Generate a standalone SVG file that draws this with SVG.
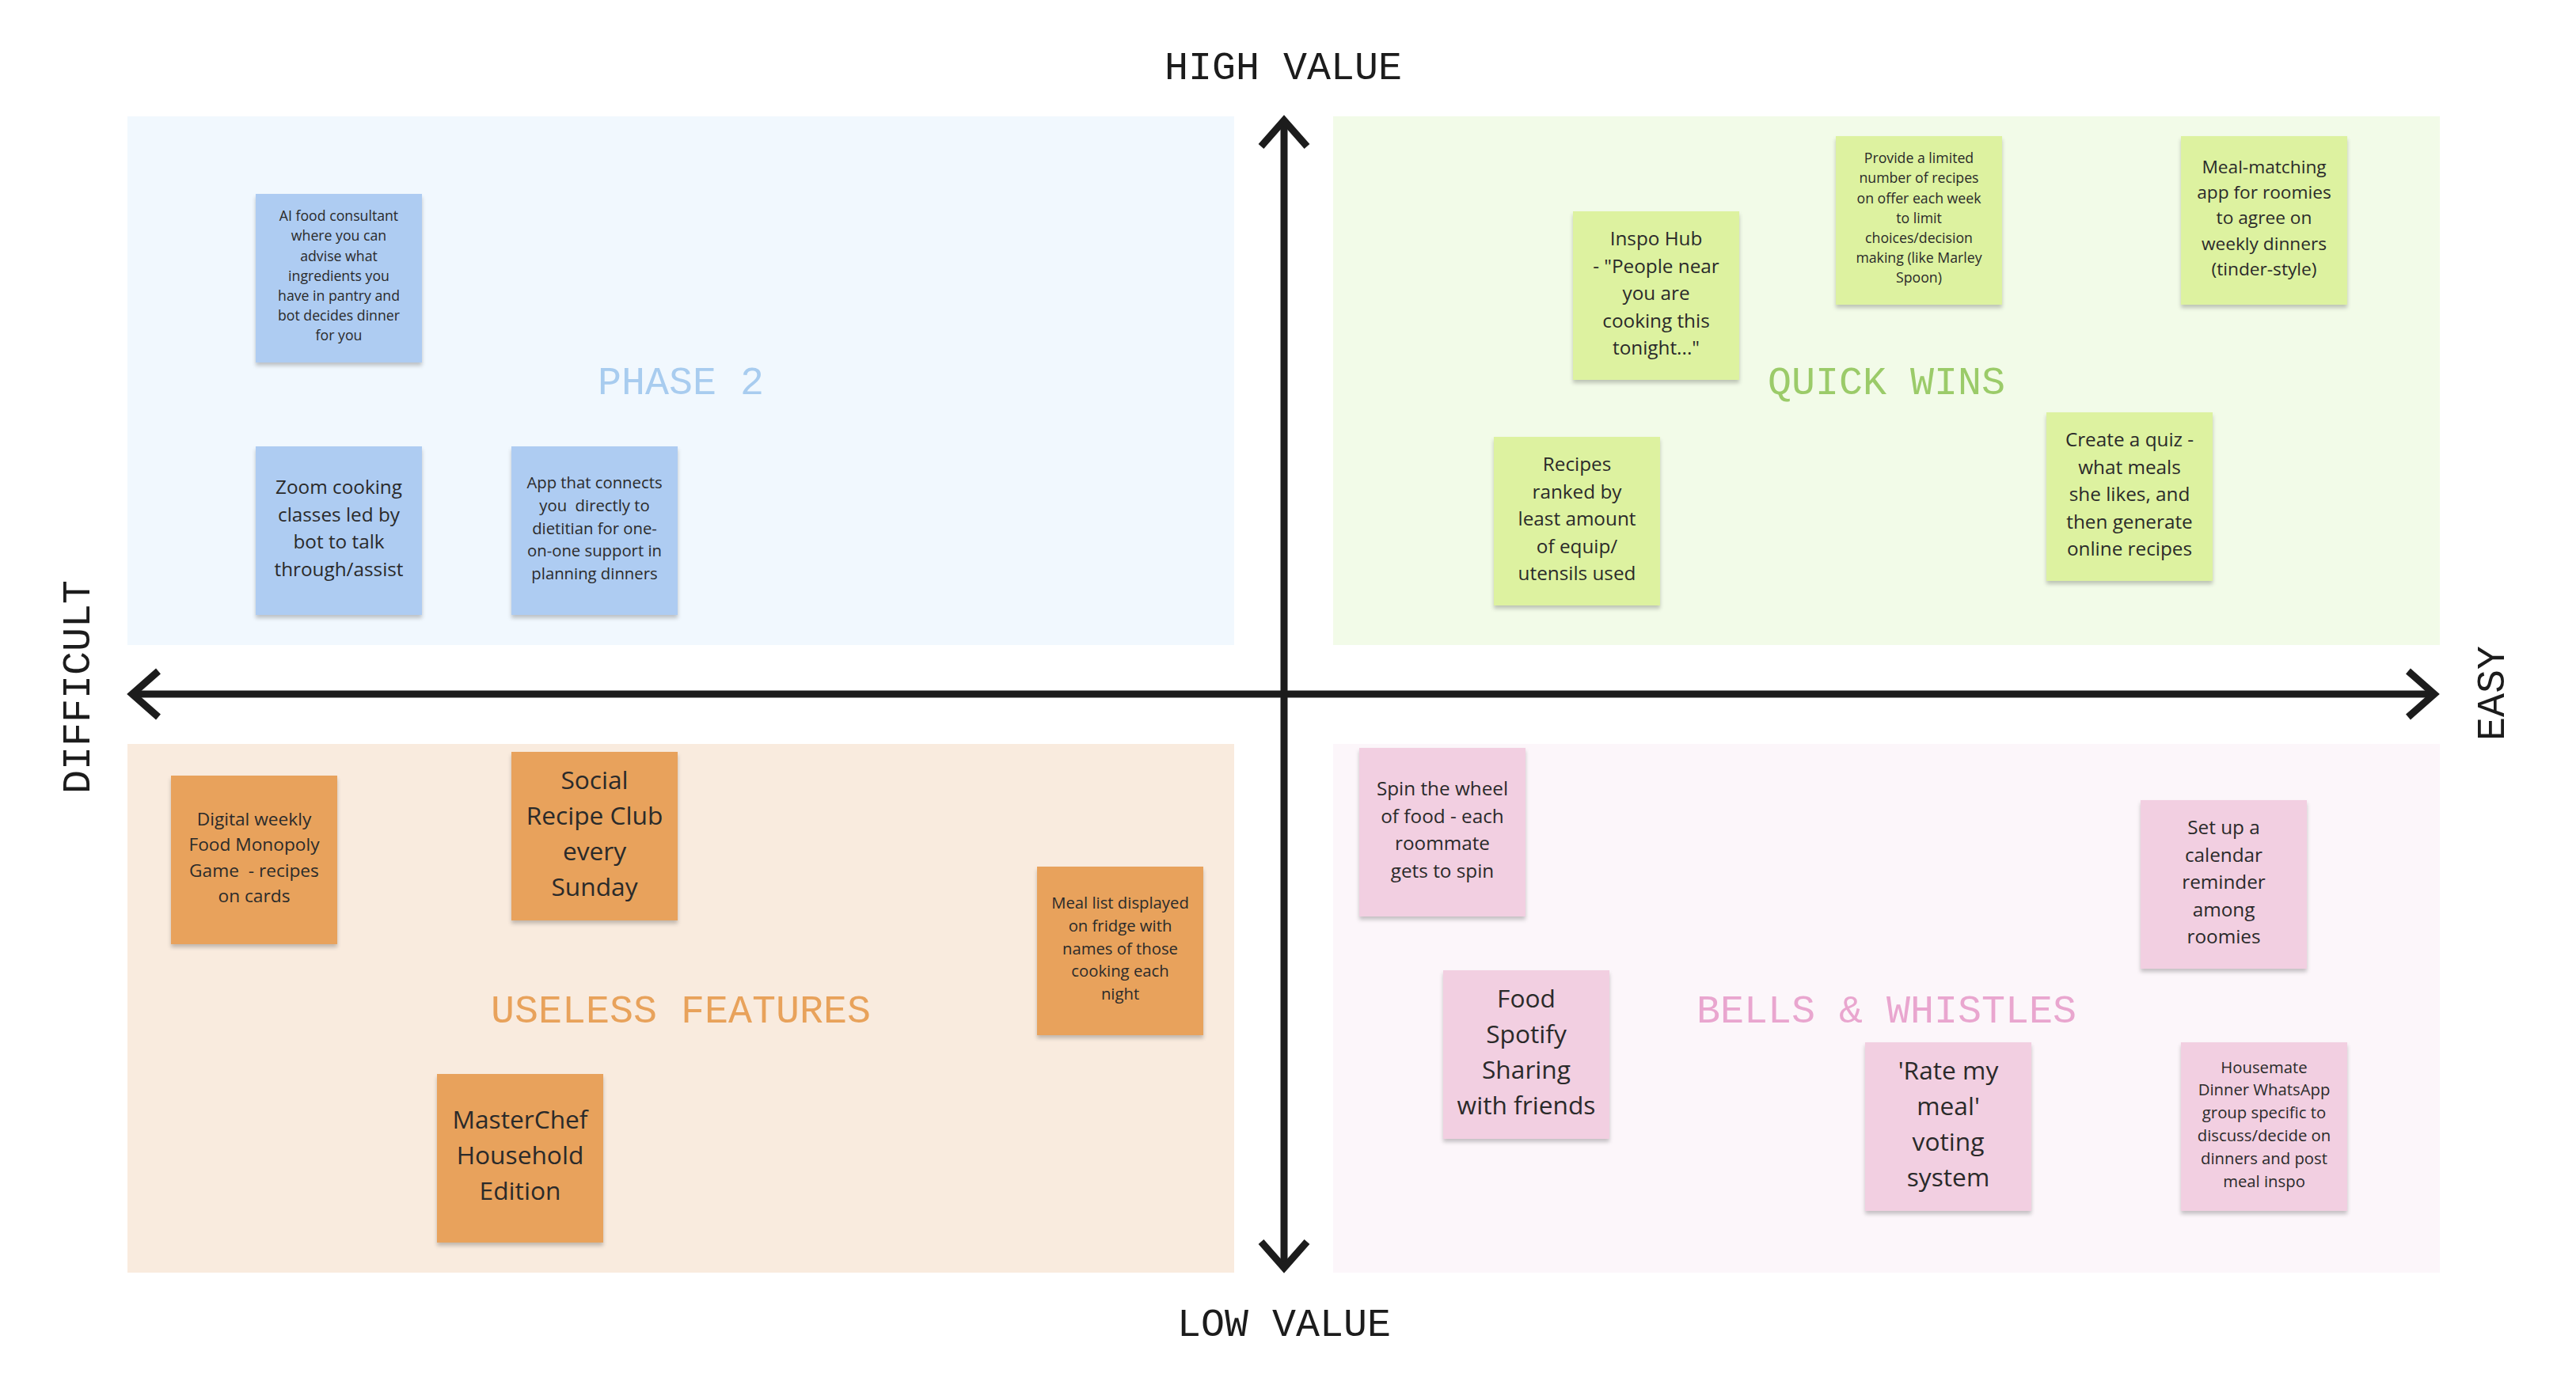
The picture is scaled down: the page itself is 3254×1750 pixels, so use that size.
<svg xmlns="http://www.w3.org/2000/svg" width="3254" height="1750" viewBox="0 0 3254 1750">
<defs>
<style>
.mono{font-family:"Liberation Mono","DejaVu Sans Mono",monospace;font-size:50px;text-anchor:middle}
.axislbl{fill:#1c1c1c}
.note text{font-family:"Open Sans","Noto Sans",sans-serif;fill:#2a2a2a;text-anchor:middle}
.blue rect{fill:#AECCF2}
.green rect{fill:#DDF2A0}
.orange rect{fill:#E8A25B}
.pink rect{fill:#F2CFE1}
.s1{font-size:17.7px}
.s2{font-size:20.3px}
.s3{font-size:22.7px}
.s4{font-size:24.3px}
.s5{font-size:31.7px}
.axis{stroke:#1c1c1c;stroke-width:9;fill:none}
</style>
<filter id="sh" x="-10%" y="-10%" width="120%" height="125%">
<feDropShadow dx="0" dy="4" stdDeviation="2.5" flood-color="#000" flood-opacity="0.22"/>
</filter>
</defs>
<rect width="3254" height="1750" fill="#ffffff"/>
<g id="quadrants">
<rect x="161" y="147" width="1398" height="668" fill="#F1F8FE"/>
<rect x="1684" y="147" width="1398" height="668" fill="#F2FBE8"/>
<rect x="161" y="940" width="1398" height="668" fill="#F9EBDE"/>
<rect x="1684" y="940" width="1398" height="668" fill="#FCF6FA"/>
</g>
<g id="titles" class="mono">
<text x="860" y="498" fill="#A8CCEF">PHASE 2</text>
<text x="2383" y="498" fill="#9BCB69">QUICK WINS</text>
<text x="860" y="1292" fill="#E8A25B" xml:space="preserve">USELESS FEATURES</text>
<text x="2383" y="1292" fill="#E9A6CF">BELLS &amp; WHISTLES</text>
</g>
<g id="connectors">
<line class="axis" x1="1622" y1="156" x2="1622" y2="1598"/>
<line class="axis" x1="172" y1="877" x2="3071" y2="877"/>
<polyline class="axis" points="1593,185 1622,152 1651,185"/>
<polyline class="axis" points="1593,1569 1622,1602 1651,1569"/>
<polyline class="axis" points="200,848 167,877 200,906"/>
<polyline class="axis" points="3042,848 3075,877 3042,906"/>
</g>
<g id="axis-labels" class="mono axislbl">
<text x="1621" y="100">HIGH VALUE</text>
<text x="1622" y="1688">LOW VALUE</text>
<text transform="translate(113,868) rotate(-90)">DIFFICULT</text>
<text transform="translate(3163,876) rotate(-90)">EASY</text>
</g>
<g id="note-b1" class="note blue"><rect x="323" y="245" width="210" height="213" filter="url(#sh)"/><text class="s1"><tspan x="428" y="279">AI food consultant</tspan><tspan x="428" y="304">where you can</tspan><tspan x="428" y="330">advise what</tspan><tspan x="428" y="355">ingredients you</tspan><tspan x="428" y="380">have in pantry and</tspan><tspan x="428" y="405">bot decides dinner</tspan><tspan x="428" y="430">for you</tspan></text></g>
<g id="note-b2" class="note blue"><rect x="323" y="564" width="210" height="213" filter="url(#sh)"/><text class="s4"><tspan x="428" y="624">Zoom cooking</tspan><tspan x="428" y="658.5">classes led by</tspan><tspan x="428" y="693">bot to talk</tspan><tspan x="428" y="727.5">through/assist</tspan></text></g>
<g id="note-b3" class="note blue"><rect x="646" y="564" width="210" height="213" filter="url(#sh)"/><text class="s2" xml:space="preserve"><tspan x="751" y="617">App that connects</tspan><tspan x="751" y="645.8">you  directly to</tspan><tspan x="751" y="674.6">dietitian for one-</tspan><tspan x="751" y="703.4">on-one support in</tspan><tspan x="751" y="732.2">planning dinners</tspan></text></g>
<g id="note-g1" class="note green"><rect x="1987" y="267" width="210" height="213" filter="url(#sh)"/><text class="s4"><tspan x="2092" y="310">Inspo Hub</tspan><tspan x="2092" y="344.5">- "People near</tspan><tspan x="2092" y="379">you are</tspan><tspan x="2092" y="413.5">cooking this</tspan><tspan x="2092" y="448">tonight..."</tspan></text></g>
<g id="note-g2" class="note green"><rect x="2319" y="172" width="210" height="213" filter="url(#sh)"/><text class="s1"><tspan x="2424" y="206">Provide a limited</tspan><tspan x="2424" y="231">number of recipes</tspan><tspan x="2424" y="257">on offer each week</tspan><tspan x="2424" y="282">to limit</tspan><tspan x="2424" y="307">choices/decision</tspan><tspan x="2424" y="332">making (like Marley</tspan><tspan x="2424" y="357">Spoon)</tspan></text></g>
<g id="note-g3" class="note green"><rect x="2755" y="172" width="210" height="213" filter="url(#sh)"/><text class="s3"><tspan x="2860" y="219">Meal-matching</tspan><tspan x="2860" y="251">app for roomies</tspan><tspan x="2860" y="283">to agree on</tspan><tspan x="2860" y="316">weekly dinners</tspan><tspan x="2860" y="348">(tinder-style)</tspan></text></g>
<g id="note-g4" class="note green"><rect x="1887" y="552" width="210" height="213" filter="url(#sh)"/><text class="s4"><tspan x="1992" y="595">Recipes</tspan><tspan x="1992" y="629.5">ranked by</tspan><tspan x="1992" y="664">least amount</tspan><tspan x="1992" y="698.5">of equip/</tspan><tspan x="1992" y="733">utensils used</tspan></text></g>
<g id="note-g5" class="note green"><rect x="2585" y="521" width="210" height="213" filter="url(#sh)"/><text class="s4"><tspan x="2690" y="564">Create a quiz -</tspan><tspan x="2690" y="598.5">what meals</tspan><tspan x="2690" y="633">she likes, and</tspan><tspan x="2690" y="667.5">then generate</tspan><tspan x="2690" y="702">online recipes</tspan></text></g>
<g id="note-o1" class="note orange"><rect x="216" y="980" width="210" height="213" filter="url(#sh)"/><text class="s3" xml:space="preserve"><tspan x="321" y="1043">Digital weekly</tspan><tspan x="321" y="1075">Food Monopoly</tspan><tspan x="321" y="1108">Game  - recipes</tspan><tspan x="321" y="1140">on cards</tspan></text></g>
<g id="note-o2" class="note orange"><rect x="646" y="950" width="210" height="213" filter="url(#sh)"/><text class="s5"><tspan x="751" y="996.5">Social</tspan><tspan x="751" y="1041.5">Recipe Club</tspan><tspan x="751" y="1086.5">every</tspan><tspan x="751" y="1131.5">Sunday</tspan></text></g>
<g id="note-o3" class="note orange"><rect x="1310" y="1095" width="210" height="213" filter="url(#sh)"/><text class="s2"><tspan x="1415" y="1148">Meal list displayed</tspan><tspan x="1415" y="1176.8">on fridge with</tspan><tspan x="1415" y="1205.6">names of those</tspan><tspan x="1415" y="1234.4">cooking each</tspan><tspan x="1415" y="1263.2">night</tspan></text></g>
<g id="note-o4" class="note orange"><rect x="552" y="1357" width="210" height="213" filter="url(#sh)"/><text class="s5"><tspan x="657" y="1426">MasterChef</tspan><tspan x="657" y="1471">Household</tspan><tspan x="657" y="1516">Edition</tspan></text></g>
<g id="note-p1" class="note pink"><rect x="1717" y="945" width="210" height="213" filter="url(#sh)"/><text class="s4"><tspan x="1822" y="1005">Spin the wheel</tspan><tspan x="1822" y="1039.5">of food - each</tspan><tspan x="1822" y="1074">roommate</tspan><tspan x="1822" y="1108.5">gets to spin</tspan></text></g>
<g id="note-p2" class="note pink"><rect x="2704" y="1011" width="210" height="213" filter="url(#sh)"/><text class="s4"><tspan x="2809" y="1054">Set up a</tspan><tspan x="2809" y="1088.5">calendar</tspan><tspan x="2809" y="1123">reminder</tspan><tspan x="2809" y="1157.5">among</tspan><tspan x="2809" y="1192">roomies</tspan></text></g>
<g id="note-p3" class="note pink"><rect x="1823" y="1226" width="210" height="213" filter="url(#sh)"/><text class="s5"><tspan x="1928" y="1272.5">Food</tspan><tspan x="1928" y="1317.5">Spotify</tspan><tspan x="1928" y="1362.5">Sharing</tspan><tspan x="1928" y="1407.5">with friends</tspan></text></g>
<g id="note-p4" class="note pink"><rect x="2356" y="1317" width="210" height="213" filter="url(#sh)"/><text class="s5"><tspan x="2461" y="1363.5">'Rate my</tspan><tspan x="2461" y="1408.5">meal'</tspan><tspan x="2461" y="1453.5">voting</tspan><tspan x="2461" y="1498.5">system</tspan></text></g>
<g id="note-p5" class="note pink"><rect x="2755" y="1317" width="210" height="213" filter="url(#sh)"/><text class="s2"><tspan x="2860" y="1355.6">Housemate</tspan><tspan x="2860" y="1384.4">Dinner WhatsApp</tspan><tspan x="2860" y="1413.2">group specific to</tspan><tspan x="2860" y="1442">discuss/decide on</tspan><tspan x="2860" y="1470.8">dinners and post</tspan><tspan x="2860" y="1499.6">meal inspo</tspan></text></g>
</svg>
